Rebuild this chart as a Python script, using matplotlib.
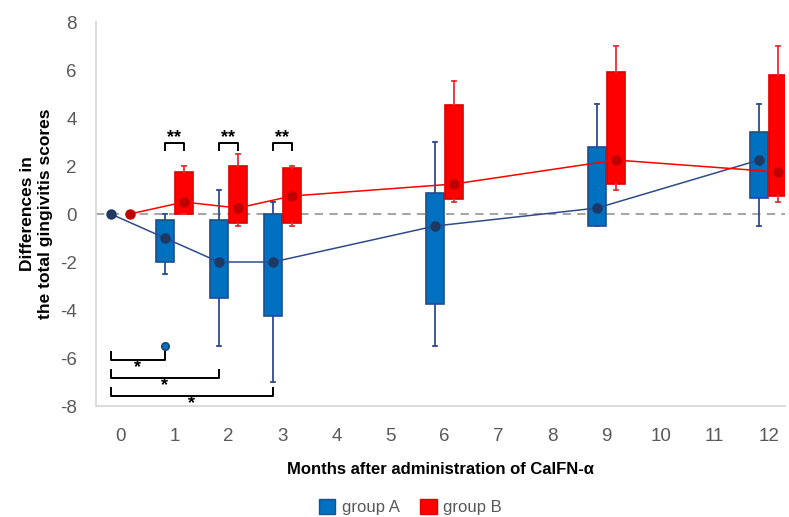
import matplotlib.pyplot as plt
from matplotlib.patches import Patch

plt.rcParams['font.family'] = ['Liberation Sans', 'DejaVu Sans']
plt.rcParams['axes.unicode_minus'] = False

# mean scores (dots joined by lines)
months = [0, 1, 2, 3, 6, 9, 12]
a_mean = [0, -1.0, -2.0, -2.0, -0.5, 0.25, 2.25]
b_mean = [0, 0.5, 0.25, 0.75, 1.25, 2.25, 1.75]

# box statistics for the follow-up months
box_months = [1, 2, 3, 6, 9, 12]
a_whislo = [-2.5, -5.5, -7.0, -5.5, -0.5, -0.5]
a_q1 = [-2.0, -3.5, -4.25, -3.75, -0.5, 0.65]
a_q3 = [-0.25, -0.25, 0.0, 0.875, 2.8, 3.4]
a_whishi = [0.0, 1.0, 0.5, 3.0, 4.6, 4.6]
a_fliers = [[-5.5], [], [], [], [], []]

b_whislo = [0.0, -0.5, -0.5, 0.5, 1.0, 0.5]
b_q1 = [0.0, -0.375, -0.375, 0.625, 1.25, 0.75]
b_q3 = [1.75, 2.0, 1.9, 4.55, 5.9, 5.8]
b_whishi = [2.0, 2.5, 2.0, 5.55, 7.0, 7.0]
b_fliers = [[], [], [], [], [], []]

# significance marks
sig_between = [1, 2, 3]          # group A vs group B (**)
sig_vs_base = [1, 2, 3]          # group A: month 0 vs month n (*)

off = 0.175
width = 0.33

blue = '#0070C0'
blue_edge = '#1F4E8C'
navy = '#1F3864'
red = '#FF0000'
dark_red = '#C00000'


def stats(q1, q3, lo, hi, med, fl):
    return [dict(q1=a, q3=b, whislo=c, whishi=d, med=m, fliers=f)
            for a, b, c, d, m, f in zip(q1, q3, lo, hi, med, fl)]


a_box_mean = a_mean[1:]
b_box_mean = b_mean[1:]

fig = plt.figure(figsize=(7.89, 5.17), dpi=100)
ax = fig.add_axes([0.1217, 0.2147, 0.873, 0.7427])

ax.axhline(0, color='#A6A6A6', ls=(0, (4, 3)), lw=1.5, zorder=0)

ax.bxp(stats(a_q1, a_q3, a_whislo, a_whishi, a_box_mean, a_fliers),
       positions=[m - off for m in box_months], widths=width,
       patch_artist=True, manage_ticks=False,
       boxprops=dict(facecolor=blue, edgecolor=blue_edge, lw=1.2),
       whiskerprops=dict(color='#2F4B8A', lw=1.3),
       capprops=dict(color='#2F4B8A', lw=1.3),
       capwidths=0.08,
       medianprops=dict(lw=0),
       flierprops=dict(marker='o', markerfacecolor=blue,
                       markeredgecolor=navy, markersize=5.5), zorder=2)

ax.bxp(stats(b_q1, b_q3, b_whislo, b_whishi, b_box_mean, b_fliers),
       positions=[m + off for m in box_months], widths=width,
       patch_artist=True, manage_ticks=False,
       boxprops=dict(facecolor=red, edgecolor='#E00000', lw=1.2),
       whiskerprops=dict(color='#E53030', lw=1.3),
       capprops=dict(color='#E53030', lw=1.3),
       capwidths=0.08,
       medianprops=dict(lw=0), zorder=2)

ax.plot([m - off for m in months], a_mean, color='#2F4B8A', lw=1.1,
        marker='o', markersize=6.5, markerfacecolor=navy,
        markeredgecolor=navy, zorder=4)
ax.plot([m + off for m in months], b_mean, color=red, lw=1.1,
        marker='o', markersize=6.5, markerfacecolor=dark_red,
        markeredgecolor=dark_red, zorder=4)

# ** brackets between groups
for m in sig_between:
    x0, x1 = m - off, m + off
    ax.plot([x0, x0, x1, x1], [2.65, 2.95, 2.95, 2.65], color='black',
            lw=1.4, zorder=5)
    ax.text(m, 2.85, '**', ha='center', va='bottom', fontsize=13,
            fontweight='bold')

# * brackets against baseline
for i, m in enumerate(sig_vs_base):
    y = -6.1 - 0.75 * i
    x0, x1 = -off, m - off
    ax.plot([x0, x0, x1, x1], [y + 0.35, y, y, y + 0.35], color='black',
            lw=1.4, zorder=5)
    ax.text((x0 + x1) / 2, y + 0.05, '*', ha='center', va='top',
            fontsize=13, fontweight='bold')

ax.set_xlim(-0.45, 12.3)
ax.set_ylim(-8, 8)
ax.set_xticks(range(0, 13))
ax.set_yticks(range(-8, 9, 2))
ax.tick_params(length=0, labelsize=13.5, labelcolor='#595959')
ax.tick_params(axis='x', pad=16)
ax.tick_params(axis='y', pad=14)
for s in ['top', 'right']:
    ax.spines[s].set_visible(False)
for s in ['left', 'bottom']:
    ax.spines[s].set_color('#D9D9D9')
    ax.spines[s].set_linewidth(1.3)

ax.set_xlabel('Months after administration of CaIFN-\u03b1', fontsize=12,
              fontweight='bold', labelpad=12)
ax.set_ylabel('Differences in\nthe total gingivitis scores', fontsize=12.5,
              fontweight='bold', labelpad=5)

handles = [Patch(facecolor=blue, edgecolor=blue_edge, label='group A'),
           Patch(facecolor=red, edgecolor='#E00000', label='group B')]
fig.legend(handles=handles, loc='lower center', ncol=2, frameon=False,
           fontsize=12, labelcolor='#595959', handlelength=1.0,
           handleheight=1.0, handletextpad=0.4, columnspacing=1.2,
           bbox_to_anchor=(0.52, -0.025))

fig.savefig('out.png', dpi=100)
